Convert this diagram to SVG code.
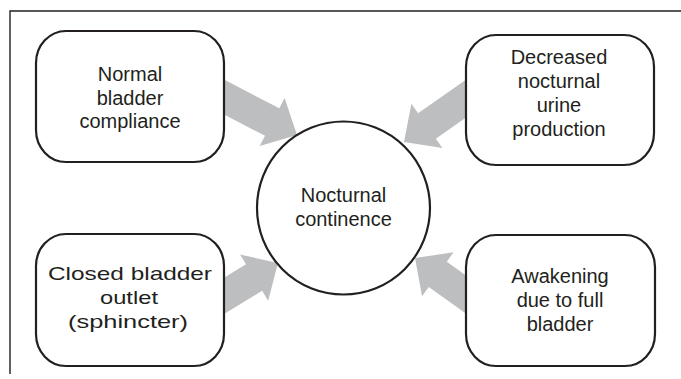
<svg xmlns="http://www.w3.org/2000/svg" width="681" height="379" viewBox="0 0 681 379">
<style>
.box{fill:#fff;stroke:#231f20;stroke-width:2.2}
.frame{fill:none;stroke:#231f20;stroke-width:1.4}
.arr{fill:#bcbec0;stroke:none}
text{font-family:"Liberation Sans",Arial,sans-serif;font-size:20px;fill:#231f20;text-anchor:middle}
.wide{font-size:19px}
</style>
<defs>
<polygon id="arrow" points="-100,-15.5 -28,-15.5 -28,-27 0,0 -28,27 -28,15.5 -100,15.5"/>
</defs>
<g id="frame">
<path class="frame" d="M10,374 V11 H681"/>
</g>
<g id="connectors">
<use href="#arrow" class="arr" transform="translate(297,135) rotate(27.5)"/>
<use href="#arrow" class="arr" transform="translate(404,142) rotate(145)"/>
<use href="#arrow" class="arr" transform="translate(278,263) rotate(-31.4)"/>
<use href="#arrow" class="arr" transform="translate(415,258) rotate(215.6)"/>
</g>
<g id="node-normal-bladder">
<rect class="box" x="36" y="31" width="188" height="131" rx="30" ry="32"/>
<text x="130" y="81">Normal</text>
<text x="130" y="104.5">bladder</text>
<text x="130" y="128">compliance</text>
</g>
<g id="node-decreased-urine">
<rect class="box" x="466" y="35" width="188" height="130" rx="30" ry="32"/>
<text x="559" y="64">Decreased</text>
<text x="559" y="88">nocturnal</text>
<text x="559" y="112">urine</text>
<text x="559" y="136">production</text>
</g>
<g id="node-closed-outlet">
<rect class="box" x="36" y="234" width="188" height="132" rx="30" ry="32"/>
<text class="wide" x="130" y="280" textLength="164" lengthAdjust="spacingAndGlyphs">Closed bladder</text>
<text class="wide" x="129" y="304" textLength="58" lengthAdjust="spacingAndGlyphs">outlet</text>
<text class="wide" x="128" y="328" textLength="120" lengthAdjust="spacingAndGlyphs">(sphincter)</text>
</g>
<g id="node-awakening">
<rect class="box" x="466" y="235" width="189" height="131" rx="30" ry="32"/>
<text x="560" y="283">Awakening</text>
<text x="560" y="307">due to full</text>
<text x="560" y="331">bladder</text>
</g>
<g id="node-continence">
<circle class="box" cx="343.5" cy="208" r="86.5"/>
<text x="343.5" y="202">Nocturnal</text>
<text x="343.5" y="226">continence</text>
</g>
</svg>
